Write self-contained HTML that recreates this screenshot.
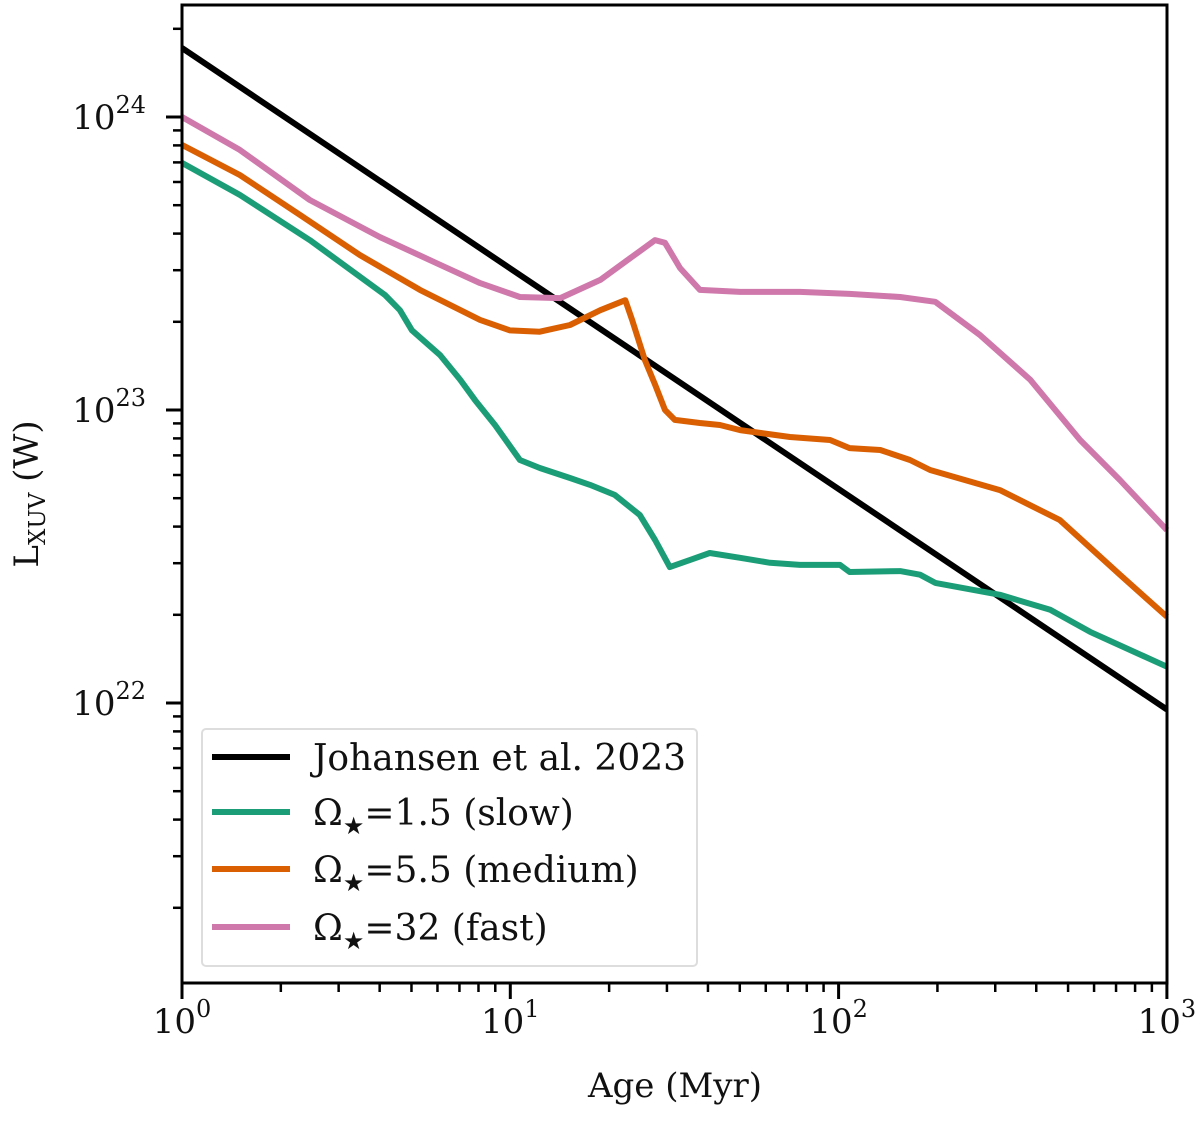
<!DOCTYPE html>
<html><head><meta charset="utf-8"><style>
body{margin:0;background:#fff}
svg text{font-family:"DejaVu Serif","Liberation Serif",serif;fill:#111}
</style></head><body>
<svg id="chart" width="1200" height="1122" xmlns="http://www.w3.org/2000/svg">
<g id="plot"></g>
</svg>
<script>
const blackAge=[1,1000];
const blackL=[1.72e24,9.5e21];
const slowAge=[1,1.5,2.45,4.15,4.61,5.02,6.11,7.03,7.81,8.98,10.7,12.3,15.2,17.5,20.8,24.8,27.6,30.6,35.3,40.5,50.1,61.8,76.3,101,108,154,177,197,310,441,583,1000];
const slowL=[6.97e23,5.42e23,3.80e23,2.47e23,2.19e23,1.87e23,1.54e23,1.27e23,1.08e23,8.89e22,6.75e22,6.34e22,5.86e22,5.55e22,5.13e22,4.38e22,3.60e22,2.91e22,3.08e22,3.25e22,3.13e22,3.01e22,2.96e22,2.96e22,2.80e22,2.82e22,2.74e22,2.57e22,2.34e22,2.08e22,1.75e22,1.33e22];
const medAge=[1,1.5,2.29,3.48,5.31,8.09,9.98,12.3,15.2,18.8,22.4,23.5,25.7,27.6,29.6,31.7,37.8,43.5,50.1,57.6,71.1,94.2,108,134,165,190,310,472,719,1000];
const medL=[8.03e23,6.34e23,4.63e23,3.38e23,2.57e23,2.03e23,1.87e23,1.85e23,1.95e23,2.19e23,2.37e23,2.03e23,1.48e23,1.22e23,1.0e23,9.25e22,9.03e22,8.89e22,8.54e22,8.35e22,8.09e22,7.90e22,7.41e22,7.30e22,6.75e22,6.24e22,5.33e22,4.21e22,2.74e22,1.97e22];
const fastAge=[1,1.5,2.45,4.01,6.11,8.09,10.7,14.2,18.8,23.2,27.6,29.6,32.9,37.8,50.1,76.3,108,154,197,270,383,544,719,1000];
const fastL=[1e24,7.72e23,5.21e23,3.89e23,3.13e23,2.71e23,2.43e23,2.41e23,2.78e23,3.30e23,3.80e23,3.72e23,3.05e23,2.57e23,2.53e23,2.53e23,2.49e23,2.43e23,2.34e23,1.80e23,1.27e23,7.90e22,5.77e22,3.89e22];
const xTicks=[1,10,100,1000];
const xTickExp=["0","1","2","3"];
const yTicks=[1e22,1e23,1e24];
const yTickExp=["22","23","24"];

const X0=182,X1=1167,YT=5,YB=983;
function xs(v){return X0+Math.log10(v)*328.3;}
function ys(v){return 117-(Math.log10(v)-24)*293;}
const NS="http://www.w3.org/2000/svg";
const g=document.getElementById('plot');
function mk(t,a){const e=document.createElementNS(NS,t);for(const k in a)e.setAttribute(k,a[k]);g.appendChild(e);return e;}

function series(ages,vals,color,name){
  const d=ages.map((a,i)=>(i?'L':'M')+xs(a).toFixed(1)+','+ys(vals[i]).toFixed(1)).join('');
  const p=mk('path',{d:d,fill:'none',stroke:color,'stroke-width':6,'stroke-linejoin':'round'});
  
  
}
series(blackAge,blackL,'#000','johansen-line');
series(slowAge,slowL,'#1b9e77','slow-rotator-line');
series(medAge,medL,'#d95f02','medium-rotator-line');
series(fastAge,fastL,'#cf78ab','fast-rotator-line');

const fr=mk('rect',{x:X0,y:YT,width:X1-X0,height:YB-YT,fill:'none',stroke:'#000','stroke-width':3});



for(let d=0;d<3;d++){for(let m=2;m<=9;m++){const x=xs(m*Math.pow(10,d));mk('line',{x1:x,x2:x,y1:YB,y2:YB+9,stroke:'#000','stroke-width':2.5});}}
xTicks.forEach((v,i)=>{const x=xs(v);mk('line',{x1:x,x2:x,y1:YB,y2:YB+16,stroke:'#000','stroke-width':3});
  const t=mk('text',{x:x,y:1033,'font-size':34,'text-anchor':'middle'});
  t.innerHTML='10<tspan dy="-16" font-size="24">'+xTickExp[i]+'</tspan>';
  
  });
for(let d=21;d<=24;d++){for(let m=2;m<=9;m++){const v=m*Math.pow(10,d);const y=ys(v);if(y<YT||y>YB)continue;mk('line',{x1:X0-9,x2:X0,y1:y,y2:y,stroke:'#000','stroke-width':2.5});}}
yTicks.forEach((v,i)=>{const y=ys(v);mk('line',{x1:X0-16,x2:X0,y1:y,y2:y,stroke:'#000','stroke-width':3});
  const t=mk('text',{x:146,y:y+12,'font-size':34,'text-anchor':'end'});
  t.innerHTML='10<tspan dy="-16" font-size="24">'+yTickExp[i]+'</tspan>';
  
  });
const xl=mk('text',{x:675,y:1097,'font-size':34,'text-anchor':'middle'});xl.textContent='Age (Myr)';


const yl=mk('text',{x:0,y:0,'font-size':34,'text-anchor':'middle',transform:'translate(38,494) rotate(-90)'});
yl.innerHTML='L<tspan dy="7" font-size="23">XUV</tspan><tspan dy="-7"> (W)</tspan>';



const lb=mk('rect',{x:202,y:729,width:495,height:237,rx:4,fill:'#fff','fill-opacity':0.85,stroke:'#ddd','stroke-width':2});


const legNames=['Johansen et al. 2023','Ω<tspan dy="9" font-size="24">★</tspan><tspan dy="-9">=1.5 (slow)</tspan>','Ω<tspan dy="9" font-size="24">★</tspan><tspan dy="-9">=5.5 (medium)</tspan>','Ω<tspan dy="9" font-size="24">★</tspan><tspan dy="-9">=32 (fast)</tspan>'];
const legColors=['#000','#1b9e77','#d95f02','#cf78ab'];
const legY=[757,812,869,927];
legNames.forEach((n,i)=>{
  const l=mk('line',{x1:212,x2:290,y1:legY[i],y2:legY[i],stroke:legColors[i],'stroke-width':6});
  
  
  const t=mk('text',{x:313,y:legY[i]+13,'font-size':36});t.innerHTML=n;
  
  
});
</script>
</body></html>
